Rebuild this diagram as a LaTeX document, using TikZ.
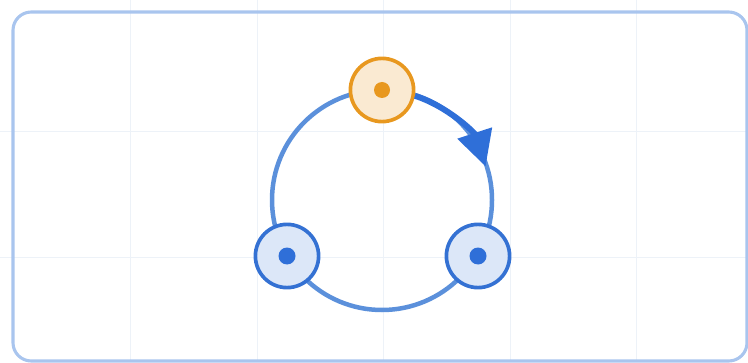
\documentclass[tikz,border=0pt]{standalone}
\definecolor{ringblue}{HTML}{5B90DB}
\definecolor{flowblue}{HTML}{2F6FD8}
\definecolor{nodeblue}{HTML}{3471D3}
\definecolor{nodeorange}{HTML}{E8981F}
\definecolor{framblue}{HTML}{A9C5EE}
\definecolor{gridblue}{HTML}{EDF2F8}
\usepackage{tikz}
\usetikzlibrary{arrows.meta}

\begin{document}
\begin{tikzpicture}[x=0.025cm, y=0.025cm,
  ring/.style={draw=ringblue, line width=3.2pt},
  flow/.style={draw=flowblue, line width=4.2pt, -{Triangle[length=25pt, width=25pt]}},
  site/.style={circle, draw=nodeblue, fill=nodeblue!17, line width=2.6pt,
               minimum size=1.58cm, inner sep=0pt},
  hot/.style={site, draw=nodeorange, fill=nodeorange!20}]
\useasboundingbox (0,0) rectangle (748,362);
\clip (0,0) rectangle (748,362);

% background grid
\foreach \x in {130,257,383,510,636}
  \draw[gridblue, line width=0.7pt] (\x,0) -- (\x,362);
\foreach \y in {231,105}
  \draw[gridblue, line width=0.7pt] (0,\y) -- (748,\y);
\draw[framblue, line width=2.2pt, rounded corners=13pt] (13,1) rectangle (747,350);

% ring with three sites
\coordinate (c) at (382,162);
\draw[ring] (c) circle (110);
\node[hot]  (top)   at (382,272) {};
\node[site] (left)  at (287,106) {};
\node[site] (right) at (478,106) {};
\draw[flow] (top.-10) arc (72:18:110);

% centre dots
\fill[nodeorange] (top) circle (8);
\fill[flowblue] (left) circle (8.5);
\fill[flowblue] (right) circle (8.5);
\end{tikzpicture}
\end{document}
